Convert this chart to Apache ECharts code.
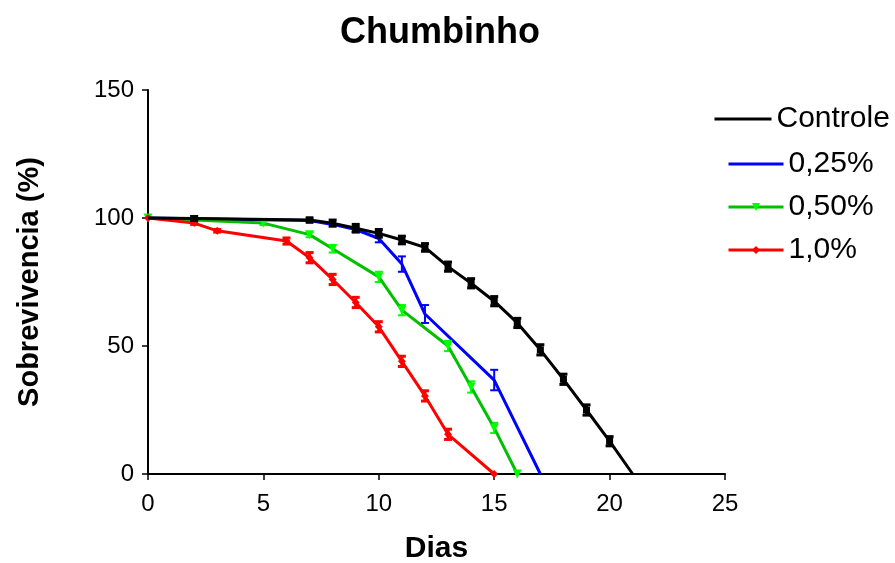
<!DOCTYPE html>
<html>
<head>
<meta charset="utf-8">
<title>Chumbinho</title>
<script src="https://cdn.jsdelivr.net/npm/echarts@6/dist/echarts.min.js"></script>
<style>
    html, body { margin: 0; padding: 0; background: #fff; }
    #chart { width: 895px; height: 563px; }
</style>
</head>
<body>
<div id="chart"></div>
<script>
// dados (dias, sobrevivencia %, erro)
var controleDias = [0, 2, 7, 8, 9, 10, 11, 12, 13, 14, 15, 16, 17, 18, 19, 20, 21];
var controleVal = [100, 99.8, 99.2, 98, 96, 94, 91.4, 88.5, 81, 74.5, 67.5, 59, 48.5, 37, 25, 12.8, 0];
var controleErr = [0, 0.8, 0.8, 1.2, 1.5, 1.5, 1.5, 1.5, 1.8, 1.8, 1.8, 1.8, 2, 2, 2, 1.8, 0];

var dose025Dias = [0, 7, 8, 9, 10, 11, 12, 15, 17];
var dose025Val = [100, 99, 97.5, 95.5, 92, 82, 62.5, 36.7, 0];
var dose025Err = [0, 0, 0, 1, 1.5, 3, 3.5, 4, 0];

var dose050Dias = [0, 5, 7, 8, 10, 11, 13, 14, 15, 16];
var dose050Val = [100, 98, 93.5, 88, 77, 64, 50, 34, 18, 0];
var dose050Err = [0, 0.8, 1, 1.5, 2, 2, 2, 2.2, 2, 0];

var dose10Dias = [0, 2, 3, 6, 7, 8, 9, 10, 11, 12, 13, 15];
var dose10Val = [100, 98, 95, 91, 84.5, 76, 67, 57.5, 44, 30.5, 15.5, 0];
var dose10Err = [0, 0.5, 0.5, 1.2, 2, 2, 2, 2, 2, 2, 2, 0];

var xTicks = [0, 5, 10, 15, 20, 25];
var yTicks = [0, 50, 100, 150];

var fonte = '"Liberation Sans", Arial, sans-serif';

function pares(dias, vals) {
    var out = [];
    for (var i = 0; i < dias.length; i++) {
        out.push([dias[i], vals[i]]);
    }
    return out;
}

function triplos(dias, vals, errs) {
    var out = [];
    for (var i = 0; i < dias.length; i++) {
        if (errs[i] > 0) out.push([dias[i], vals[i], errs[i]]);
    }
    return out;
}

// barra de erro com "chapeu" em cima e embaixo
function barraErro(cor, larg, caixa) {
    return function (params, api) {
        var x = api.value(0), y = api.value(1), e = api.value(2);
        var cima = api.coord([x, y + e]);
        var baixo = api.coord([x, y - e]);
        var meio = api.coord([x, y]);
        var estilo = { stroke: cor, lineWidth: larg };
        var filhos = [
            { type: 'line', shape: { x1: cima[0], y1: cima[1], x2: baixo[0], y2: baixo[1] }, style: estilo },
            { type: 'line', shape: { x1: cima[0] - 4, y1: cima[1], x2: cima[0] + 4, y2: cima[1] }, style: estilo },
            { type: 'line', shape: { x1: baixo[0] - 4, y1: baixo[1], x2: baixo[0] + 4, y2: baixo[1] }, style: estilo }
        ];
        if (caixa) {
            filhos.push({ type: 'rect', shape: { x: meio[0] - 3.5, y: meio[1] - 3.5, width: 7, height: 7 }, style: { fill: cor } });
        }
        return { type: 'group', children: filhos };
    };
}

var myChart = echarts.init(document.getElementById('chart'));

var option = {
    backgroundColor: '#ffffff',
    animation: false,
    title: {
        text: 'Chumbinho',
        left: 435,
        top: 10,
        textAlign: 'center',
        textStyle: { fontFamily: fonte, fontSize: 36, fontWeight: 'bold', color: '#000' }
    },
    legend: [
        {
            orient: 'vertical',
            left: 713,
            top: 104,
            padding: 0,
            itemWidth: 57,
            itemHeight: 10,
            itemGap: 13,
            lineStyle: { width: 3 },
            textStyle: { fontFamily: fonte, fontSize: 30, color: '#000' },
            data: [{ name: 'Controle', itemStyle: { opacity: 0 } }]
        },
        {
            orient: 'vertical',
            left: 727,
            top: 149,
            padding: 0,
            itemWidth: 55,
            itemHeight: 10,
            itemGap: 13,
            lineStyle: { width: 3 },
            textStyle: { fontFamily: fonte, fontSize: 30, color: '#000' },
            data: [{ name: '0,25%', itemStyle: { opacity: 0 } }, '0,50%', '1,0%']
        }
    ],
    grid: { left: 148, right: 170, top: 90, bottom: 89, outerBoundsMode: 'none' },
    xAxis: {
        type: 'value',
        min: 0,
        max: 25,
        interval: 5,
        name: 'Dias',
        nameLocation: 'middle',
        nameGap: 60,
        nameTextStyle: { fontFamily: fonte, fontSize: 30, fontWeight: 'bold', color: '#000' },
        axisLine: { onZero: false, lineStyle: { color: '#000', width: 2 } },
        axisTick: { length: 6, lineStyle: { color: '#000', width: 1.5 } },
        axisLabel: {
            fontFamily: fonte, fontSize: 24, color: '#000', margin: 18,
            formatter: function (v) { return xTicks.indexOf(v) >= 0 ? String(v) : ''; }
        },
        splitLine: { show: false }
    },
    yAxis: {
        type: 'value',
        min: 0,
        max: 150,
        interval: 50,
        name: 'Sobrevivencia (%)',
        nameLocation: 'middle',
        nameGap: 104,
        nameTextStyle: { fontFamily: fonte, fontSize: 29, fontWeight: 'bold', color: '#000' },
        axisLine: { show: true, lineStyle: { color: '#000', width: 2 } },
        axisTick: { show: true, length: 6, lineStyle: { color: '#000', width: 1.5 } },
        axisLabel: {
            fontFamily: fonte, fontSize: 24, color: '#000', margin: 14,
            formatter: function (v) { return yTicks.indexOf(v) >= 0 ? String(v) : ''; }
        },
        splitLine: { show: false }
    },
    series: [
        {
            name: '0,25%', type: 'line', data: pares(dose025Dias, dose025Val), z: 2,
            symbol: 'none', color: '#0000ff', lineStyle: { width: 3, color: '#0000ff' }
        },
        {
            name: 'err025', type: 'custom', z: 2, data: triplos(dose025Dias, dose025Val, dose025Err),
            renderItem: barraErro('#0000ff', 2, false)
        },
        {
            name: '0,50%', type: 'line', data: pares(dose050Dias, dose050Val), z: 3,
            symbol: 'triangle', symbolRotate: 180, symbolSize: 9, showAllSymbol: true,
            color: '#00cc00', itemStyle: { color: '#00ff00' }, lineStyle: { width: 3, color: '#00c000' }
        },
        {
            name: 'err050', type: 'custom', z: 3, data: triplos(dose050Dias, dose050Val, dose050Err),
            renderItem: barraErro('#00ff00', 2, false)
        },
        {
            name: '1,0%', type: 'line', data: pares(dose10Dias, dose10Val), z: 4,
            symbol: 'diamond', symbolSize: 8, showAllSymbol: true,
            color: '#ff0000', itemStyle: { color: '#ff0000' }, lineStyle: { width: 3, color: '#ff0000' }
        },
        {
            name: 'err10', type: 'custom', z: 4, data: triplos(dose10Dias, dose10Val, dose10Err),
            renderItem: barraErro('#ff0000', 3, false)
        },
        {
            name: 'Controle', type: 'line', data: pares(controleDias, controleVal), z: 5,
            symbol: 'none', color: '#000000', lineStyle: { width: 3, color: '#000000' }
        },
        {
            name: 'errControle', type: 'custom', z: 5, data: triplos(controleDias, controleVal, controleErr),
            renderItem: barraErro('#000000', 3, true)
        }
    ]
};

myChart.setOption(option);
</script>
</body>
</html>
